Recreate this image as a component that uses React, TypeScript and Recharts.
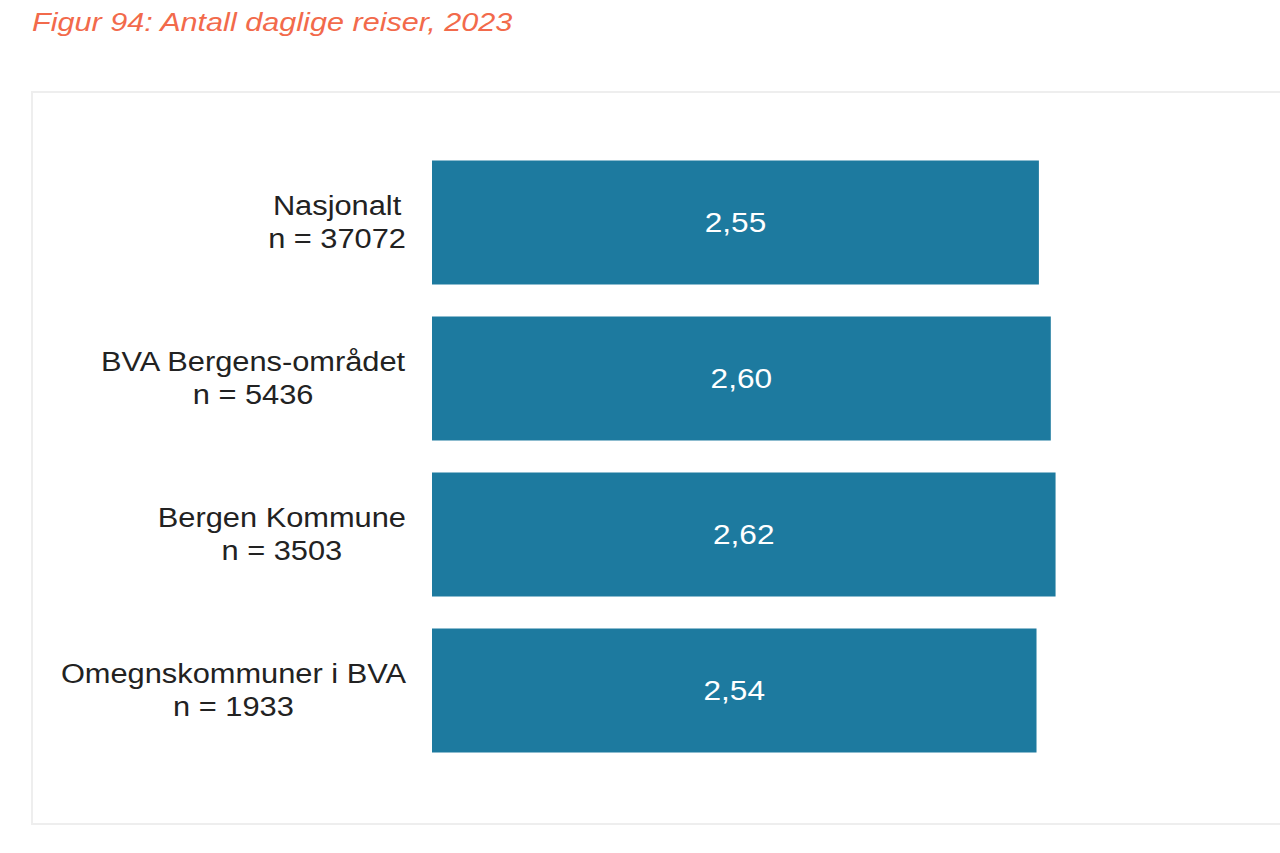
import React from "react";
import { BarChart, Bar, XAxis, YAxis, LabelList } from "recharts";

const categories = ["Nasjonalt", "BVA Bergens-området", "Bergen Kommune", "Omegnskommuner i BVA"];
const sampleSizes = ["n = 37072", "n = 5436", "n = 3503", "n = 1933"];
const values = [2.55, 2.6, 2.62, 2.54];

const data = categories.map((c, i) => ({ name: c, n: sampleSizes[i], value: values[i] }));

const FONT = '"Liberation Sans", Arial, sans-serif';
const FS = 28;
const SX = 1.1;

let ctx: CanvasRenderingContext2D | null = null;
function measure(t: string): number {
  if (!ctx) {
    const c = document.createElement("canvas");
    ctx = c.getContext("2d");
  }
  if (!ctx) return t.length * FS * 0.55;
  ctx.font = `${FS}px "Liberation Sans", Arial, sans-serif`;
  return ctx.measureText(t).width;
}

const Tick = (props: any) => {
  const { x, y, payload, index } = props;
  const l1 = String(payload.value);
  const l2 = sampleSizes[index] ?? data.find((d) => d.name === l1)?.n ?? "";
  const w = Math.max(measure(l1), measure(l2));
  const cx = -w / 2;
  return (
    <g transform={`translate(${x},${y}) scale(${SX},1)`}>
      <text x={cx} y={0} textAnchor="middle" fontFamily={FONT} fontSize={FS} fill="#222">
        <tspan x={cx} dy={-8}>{l1}</tspan>
        <tspan x={cx} dy={33}>{l2}</tspan>
      </text>
    </g>
  );
};

const fmt = (v: any) => Number(v).toFixed(2).replace(".", ",");

const ValueLabel = (props: any) => {
  const { x, y, width, height, value } = props;
  const cx = Number(x) + Number(width) / 2;
  const cy = Number(y) + Number(height) / 2;
  return (
    <g transform={`translate(${cx},${cy}) scale(1.13,1)`}>
      <text x={0} y={0} textAnchor="middle" dominantBaseline="central" fontFamily={FONT} fontSize={FS} fill="#ffffff">
        {fmt(value)}
      </text>
    </g>
  );
};

export default function App() {
  return (
    <div style={{ position: "absolute", left: 0, top: 0, width: 1280, height: 853, overflow: "hidden", background: "#fff" }}>
      <div
        style={{
          position: "absolute",
          left: 32,
          top: 7,
          fontFamily: FONT,
          fontStyle: "italic",
          fontSize: 26.5,
          color: "#F26A4B",
          whiteSpace: "nowrap",
          transform: "scaleX(1.155)",
          transformOrigin: "left top",
        }}
      >
        Figur 94: Antall daglige reiser, 2023
      </div>
      <div
        style={{
          position: "absolute",
          left: 31,
          top: 91,
          width: 1300,
          height: 730,
          border: "2px solid #eeeeee",
        }}
      />
      <div style={{ position: "absolute", left: 0, top: 0 }}>
        <BarChart
          width={1280}
          height={853}
          data={data}
          layout="vertical"
          margin={{ top: 144.5, right: 15, bottom: 84.5, left: 0 }}
          barCategoryGap={16}
        >
          <XAxis type="number" domain={[0, 3.5]} hide />
          <YAxis
            type="category"
            dataKey="name"
            width={432}
            axisLine={false}
            tickLine={false}
            tickSize={0}
            tickMargin={26}
            tick={<Tick />}
            interval={0}
          />
          <Bar dataKey="value" fill="#1D7A9F" isAnimationActive={false}>
            <LabelList dataKey="value" content={<ValueLabel />} />
          </Bar>
        </BarChart>
      </div>
    </div>
  );
}
